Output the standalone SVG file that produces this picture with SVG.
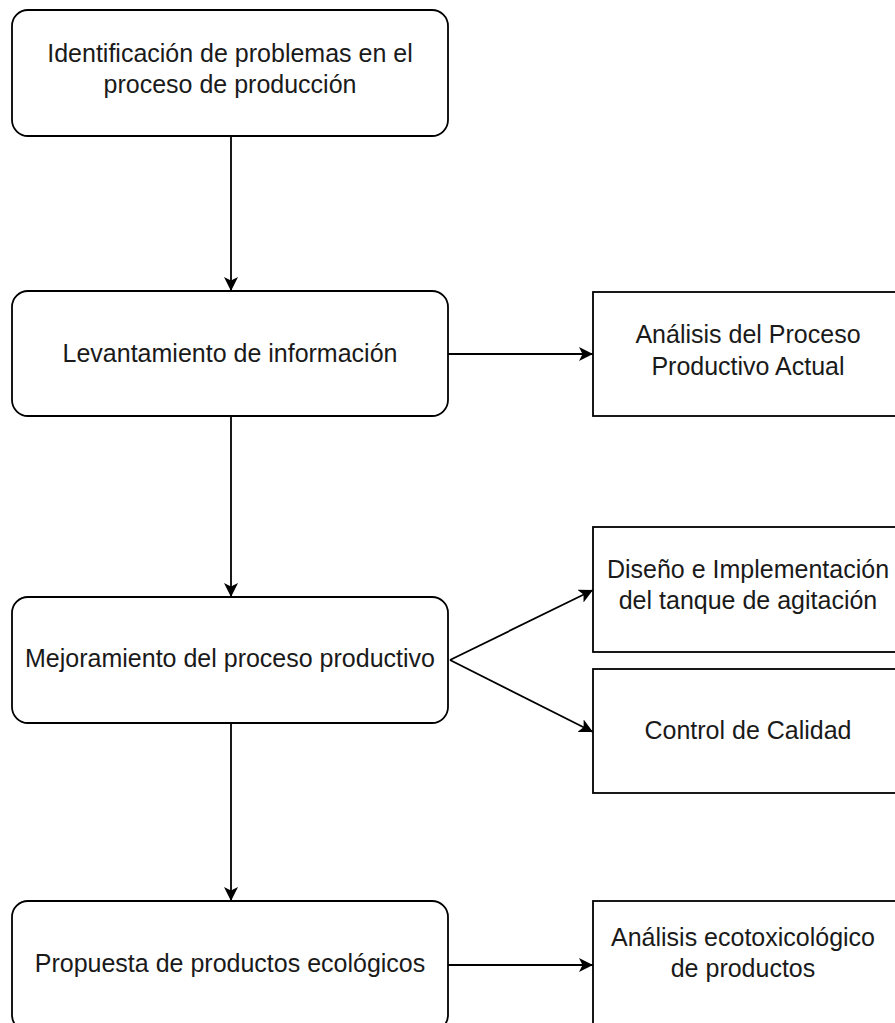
<svg xmlns="http://www.w3.org/2000/svg" width="895" height="1023" viewBox="0 0 895 1023">
<style>
.box{fill:#fff;stroke:#000;stroke-width:1.8}
.t{font-family:"Liberation Sans",Arial,Helvetica,sans-serif;font-size:25px;fill:#1a1a1a;text-anchor:middle}
.c{fill:none;stroke:#000;stroke-width:1.8}
</style>
<defs>
<marker id="arr" markerUnits="userSpaceOnUse" markerWidth="16" markerHeight="16" refX="14" refY="7" orient="auto" viewBox="0 0 16 16">
<path d="M0,0 L14,7 L0,14 L3.5,7 Z" fill="#000"/>
</marker>
</defs>
<rect width="895" height="1023" fill="#fff"/>
<g id="connectors">
<line class="c" x1="231" y1="136" x2="231" y2="291" marker-end="url(#arr)"/>
<line class="c" x1="231" y1="416" x2="231" y2="597" marker-end="url(#arr)"/>
<line class="c" x1="231" y1="723" x2="231" y2="901" marker-end="url(#arr)"/>
<line class="c" x1="448" y1="354" x2="593" y2="354" marker-end="url(#arr)"/>
<line class="c" x1="450" y1="660" x2="593" y2="590" marker-end="url(#arr)"/>
<line class="c" x1="450" y1="660" x2="593" y2="732" marker-end="url(#arr)"/>
<line class="c" x1="448" y1="965" x2="593" y2="965" marker-end="url(#arr)"/>
</g>
<g id="n1">
<rect class="box" x="12" y="10" width="436" height="126" rx="16"/>
<text class="t" x="230" y="62">Identificación de problemas en el</text>
<text class="t" x="230" y="93">proceso de producción</text>
</g>
<g id="n2">
<rect class="box" x="12" y="291" width="436" height="125" rx="16"/>
<text class="t" x="230" y="362">Levantamiento de información</text>
</g>
<g id="n3">
<rect class="box" x="12" y="597" width="436" height="126" rx="16"/>
<text class="t" x="230" y="667">Mejoramiento del proceso productivo</text>
</g>
<g id="n4">
<rect class="box" x="12" y="901" width="436" height="130" rx="16"/>
<text class="t" x="230" y="972">Propuesta de productos ecológicos</text>
</g>
<g id="r1">
<rect class="box" x="593" y="292" width="312" height="124"/>
<text class="t" x="748" y="343">Análisis del Proceso</text>
<text class="t" x="748" y="375">Productivo Actual</text>
</g>
<g id="r2">
<rect class="box" x="593" y="527" width="312" height="125"/>
<text class="t" x="748" y="578">Diseño e Implementación</text>
<text class="t" x="748" y="609">del tanque de agitación</text>
</g>
<g id="r3">
<rect class="box" x="593" y="669" width="312" height="124"/>
<text class="t" x="748" y="739">Control de Calidad</text>
</g>
<g id="r4">
<rect class="box" x="593" y="901" width="312" height="130"/>
<text class="t" x="743" y="946">Análisis ecotoxicológico</text>
<text class="t" x="743" y="977">de productos</text>
</g>
</svg>
